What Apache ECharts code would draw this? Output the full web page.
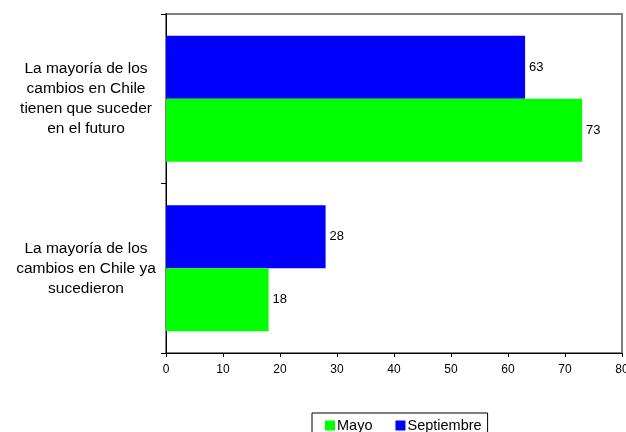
<!DOCTYPE html>
<html><head><meta charset="utf-8">
<script src="https://cdn.jsdelivr.net/npm/echarts@6/dist/echarts.min.js"></script>
<style>html,body{margin:0;padding:0;background:#fff}#c{width:626px;height:432px}</style>
</head><body><div id="c"></div>
<script>
const categories = ["La mayoría de los\ncambios en Chile ya\nsucedieron", "La mayoría de los\ncambios en Chile\ntienen que suceder\nen el futuro"];
const seriesNames = ["Mayo", "Septiembre"];
const mayo = [18, 73];
const septiembre = [28, 63];
const xTicks = [0, 10, 20, 30, 40, 50, 60, 70, 80];

const chart = echarts.init(document.getElementById('c'), null, {renderer: 'canvas'});
const font = 'Liberation Sans, Arial, sans-serif';
const valueLabel = {show: true, position: 'right', color: '#000', fontSize: 13, distance: 4, fontFamily: font};
chart.setOption({
  animation: false,
  textStyle: {fontFamily: font},
  grid: {left: 166, right: 4, top: 14, bottom: 79, containLabel: false, outerBoundsMode: 'none',
         show: true, borderColor: '#808080', borderWidth: 2, backgroundColor: '#fff'},
  legend: {
    data: seriesNames, top: 413, left: 312, itemWidth: 10, itemHeight: 10, itemGap: 23,
    borderColor: '#000', borderWidth: 1, padding: [5, 6, 12, 13],
    textStyle: {fontSize: 14.5, color: '#000', fontFamily: font, padding: [2, 0, 0, -3]},
    icon: 'rect'
  },
  xAxis: {
    type: 'value', min: xTicks[0], max: xTicks[xTicks.length - 1], interval: 10,
    axisLine: {show: true, lineStyle: {color: '#000', width: 1}},
    axisTick: {show: true, length: 4, lineStyle: {color: '#000'}},
    axisLabel: {fontSize: 12, color: '#000', margin: 11, fontFamily: font},
    splitLine: {show: false}
  },
  yAxis: {
    type: 'category', data: categories,
    axisLine: {show: true, lineStyle: {color: '#000', width: 1}},
    axisTick: {show: true, inside: false, length: 5, lineStyle: {color: '#000'}},
    axisLabel: {fontSize: 15.5, color: '#000', align: 'center', margin: 80, lineHeight: 20, fontFamily: font}
  },
  series: [
    {name: seriesNames[1], type: 'bar', data: septiembre, itemStyle: {color: '#0000ff'}, barGap: '0%', barCategoryGap: '25.7%', label: valueLabel},
    {name: seriesNames[0], type: 'bar', data: mayo, itemStyle: {color: '#00ff00'}, barGap: '0%', barCategoryGap: '25.7%', label: valueLabel}
  ]
});
</script></body></html>
